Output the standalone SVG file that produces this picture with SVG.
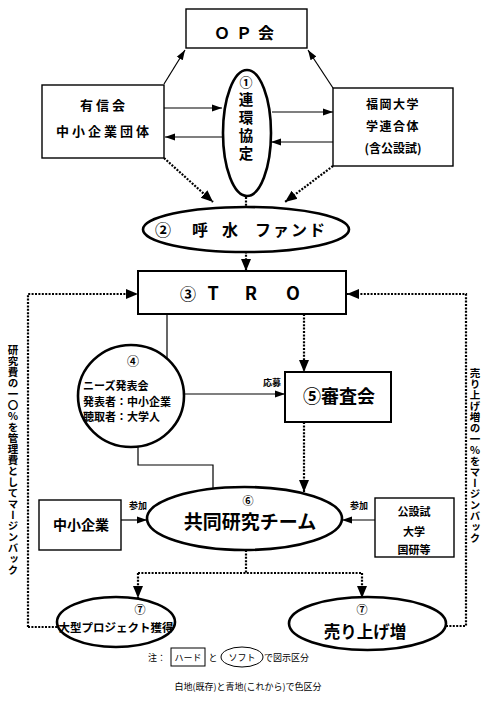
<svg xmlns="http://www.w3.org/2000/svg" width="483" height="716" viewBox="0 0 483 716">
<style>
text{font-family:"Noto Sans CJK JP","Noto Sans",sans-serif;font-weight:bold;fill:#000}
.box{fill:#fff;stroke:#000;stroke-width:1.4}
.bx2{fill:#fff;stroke:#000;stroke-width:2}
.ell{fill:#fff;stroke:#000;stroke-width:2.6}
.sl{fill:none;stroke:#000;stroke-width:1.2}
.dl{fill:none;stroke:#000;stroke-width:2.2;stroke-dasharray:2 1.4}
.note{font-weight:normal;font-size:9px}
.vt{writing-mode:vertical-rl;font-size:10.5px}
</style>
<defs>
<marker id="as" markerUnits="userSpaceOnUse" markerWidth="10" markerHeight="10" viewBox="0 0 10 10" refX="10" refY="5" orient="auto"><path d="M0,1.5 L10,5 L0,8.5 Z" fill="#000"/></marker>
<marker id="ad" markerUnits="userSpaceOnUse" markerWidth="12" markerHeight="12" viewBox="0 0 12 12" refX="12" refY="6" orient="auto"><path d="M0,1 L12,6 L0,11 Z" fill="#000"/></marker>
</defs>
<rect width="483" height="716" fill="#fff"/>

<g id="connectors">
<line class="sl" x1="164" y1="84" x2="185" y2="50" marker-end="url(#as)"/>
<line class="sl" x1="333" y1="88" x2="308" y2="50" marker-end="url(#as)"/>
<line class="sl" x1="164" y1="108" x2="222" y2="108" marker-end="url(#as)"/>
<line class="sl" x1="222" y1="137" x2="165" y2="137" marker-end="url(#as)"/>
<line class="sl" x1="272" y1="112" x2="333" y2="112" marker-end="url(#as)"/>
<line class="sl" x1="333" y1="142" x2="271" y2="142" marker-end="url(#as)"/>
<line class="dl" x1="164" y1="158" x2="213" y2="202" marker-end="url(#ad)"/>
<line class="dl" x1="333" y1="166" x2="285" y2="202" marker-end="url(#ad)"/>
<line class="dl" x1="246" y1="197" x2="246" y2="271" marker-end="url(#ad)"/>
<polyline class="dl" points="28,627 28,294 138,294" marker-end="url(#ad)"/>
<line class="dl" x1="28" y1="627" x2="58" y2="627"/>
<polyline class="dl" points="446,626 466,626 466,294 347,294" marker-end="url(#ad)"/>
<line class="sl" x1="167" y1="314" x2="167" y2="359"/>
<line class="dl" x1="304" y1="314" x2="304" y2="372" marker-end="url(#ad)"/>
<line class="sl" x1="185" y1="394" x2="285" y2="394" marker-end="url(#as)"/>
<polyline class="sl" points="138,447 138,465 213,465 213,488"/>
<line class="dl" x1="304" y1="422" x2="304" y2="492" marker-end="url(#ad)"/>
<line class="sl" x1="121" y1="520" x2="147" y2="520" marker-end="url(#as)"/>
<line class="sl" x1="375" y1="520" x2="342" y2="520" marker-end="url(#as)"/>
<polyline class="dl" points="246,550 246,573"/>
<polyline class="dl" points="138,573 362,573"/>
<line class="dl" x1="138" y1="573" x2="138" y2="598" marker-end="url(#ad)"/>
<line class="dl" x1="362" y1="573" x2="362" y2="598" marker-end="url(#ad)"/>
<text x="272" y="386" font-size="9" text-anchor="middle">応募</text>
<text x="138" y="509" font-size="9" text-anchor="middle">参加</text>
<text x="359" y="509" font-size="9" text-anchor="middle">参加</text>
</g>

<g id="op">
<rect class="box" x="186" y="9" width="121" height="39"/>
<text x="247" y="39" font-size="16" text-anchor="middle" letter-spacing="6">ＯＰ会</text>
</g>

<g id="yushinkai">
<rect class="box" x="42" y="85" width="122" height="73"/>
<text x="104" y="110" font-size="13" text-anchor="middle" letter-spacing="3">有信会</text>
<text x="104" y="136" font-size="13" text-anchor="middle" letter-spacing="3">中小企業団体</text>
</g>

<g id="fukuoka">
<rect class="box" x="333" y="88" width="120" height="78"/>
<text x="393" y="109" font-size="12" text-anchor="middle" letter-spacing="1.5">福岡大学</text>
<text x="393" y="131" font-size="12" text-anchor="middle" letter-spacing="1.5">学連合体</text>
<text x="393" y="153" font-size="12" text-anchor="middle">(含公設試)</text>
</g>

<g id="renkei">
<ellipse class="ell" cx="247" cy="133" rx="24" ry="63"/>
<text x="246" y="76" style="writing-mode:vertical-rl" font-size="14.5" letter-spacing="3.5"><tspan font-size="13">①</tspan>連環協定</text>
</g>

<g id="yobimizu">
<ellipse class="ell" cx="246" cy="229.5" rx="103" ry="22.5"/>
<text x="163" y="236" font-size="16" text-anchor="middle">②</text>
<text x="200" y="236" font-size="16" text-anchor="middle">呼</text>
<text x="230" y="236" font-size="16" text-anchor="middle">水</text>
<text x="291" y="236" font-size="16" text-anchor="middle" letter-spacing="2">ファンド</text>
</g>

<g id="tro">
<rect class="bx2" x="138" y="271" width="208" height="43"/>
<text x="188" y="300" font-size="16" text-anchor="middle">③</text>
<text x="213" y="300" font-size="18" text-anchor="middle" font-family="Liberation Sans">T</text>
<text x="251" y="300" font-size="18" text-anchor="middle" font-family="Liberation Sans">R</text>
<text x="293" y="300" font-size="18" text-anchor="middle" font-family="Liberation Sans">O</text>
</g>

<g id="needs">
<ellipse class="ell" cx="131" cy="396" rx="53" ry="51"/>
<text x="133" y="366" font-size="12" text-anchor="middle">④</text>
<text x="83" y="390" font-size="11">ニーズ発表会</text>
<text x="83" y="406" font-size="11">発表者：中小企業</text>
<text x="83" y="421" font-size="11">聴取者：大学人</text>
</g>

<g id="shinsa">
<rect class="bx2" x="285" y="372" width="106" height="50"/>
<text x="339" y="403" font-size="18" text-anchor="middle">⑤審査会</text>
</g>

<g id="kyodo">
<ellipse class="ell" cx="244.5" cy="518.5" rx="97.5" ry="31.5"/>
<text x="248" y="505" font-size="11" text-anchor="middle">⑥</text>
<text x="250" y="529" font-size="19" text-anchor="middle">共同研究チーム</text>
</g>

<g id="chusho">
<rect class="box" x="39" y="500" width="82" height="50"/>
<text x="81" y="530" font-size="14" text-anchor="middle">中小企業</text>
</g>

<g id="koset">
<rect class="box" x="375" y="498" width="79" height="59"/>
<text x="414" y="516" font-size="11" text-anchor="middle">公設試</text>
<text x="414" y="536" font-size="11" text-anchor="middle">大学</text>
<text x="414" y="554" font-size="11" text-anchor="middle">国研等</text>
</g>

<g id="ogata">
<ellipse class="ell" cx="116" cy="622" rx="59" ry="25"/>
<text x="140" y="614" font-size="11" text-anchor="middle">⑦</text>
<text x="116" y="632" font-size="11.5" text-anchor="middle">大型プロジェクト獲得</text>
</g>

<g id="uriage">
<ellipse class="ell" cx="367.5" cy="623.5" rx="78.5" ry="26.5"/>
<text x="362" y="614" font-size="11" text-anchor="middle">⑦</text>
<text x="365" y="638" font-size="16.5" text-anchor="middle">売り上げ増</text>
</g>

<g id="side-texts">
<text class="vt" x="13" y="345" letter-spacing="0.5">研究費の一〇％を管理費としてマージンバック</text>
<text class="vt" x="475" y="368" letter-spacing="0.5">売り上げ増の一％をマージンバック</text>
</g>

<g id="legend">
<text class="note" x="148" y="661">注：</text>
<rect x="171" y="648" width="34" height="18" fill="#fff" stroke="#000" stroke-width="1"/>
<text class="note" x="188" y="661" font-size="8" text-anchor="middle">ハード</text>
<text class="note" x="213" y="661" text-anchor="middle">と</text>
<ellipse cx="242" cy="657" rx="21" ry="10" fill="#fff" stroke="#000" stroke-width="1"/>
<text class="note" x="242" y="661" font-size="8" text-anchor="middle">ソフト</text>
<text class="note" x="264" y="661">で図示区分</text>
<text class="note" x="248" y="690" text-anchor="middle">白地(既存)と青地(これから)で色区分</text>
</g>
</svg>
